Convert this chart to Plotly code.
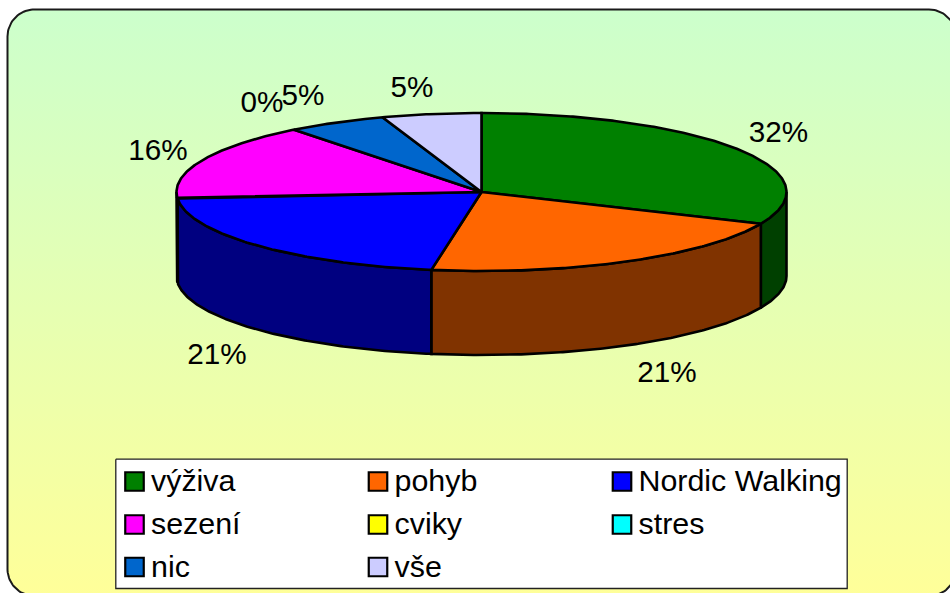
import numpy as np
import plotly.graph_objects as go

categories = ["výživa", "pohyb", "Nordic Walking", "sezení", "cviky", "stres", "nic", "vše"]
values = [6, 4, 4, 3, 0, 0, 1, 1]
top_colors = ["#008000", "#FF6600", "#0000FF", "#FF00FF", "#FFFF00", "#00FFFF", "#0066CC", "#CCCCFF"]
side_colors = ["#004000", "#803300", "#000080", "#800080", "#808000", "#008080", "#003366", "#666680"]
label_pos = [(778.5, 135), (667, 375), (217, 357), (158, 153), None, (262, 105), (303, 98), (412, 90)]

W, H = 950, 593
CX, CY, RX, RY, DEPTH = 481.5, 192, 305, 79, 84
FONT = "Liberation Sans, Arial, sans-serif"
FS = 29.7
LEG_FS = 30.4
LW = 2.6

def ell(a, dy=0):
    a = np.radians(a)
    return CX + RX * np.sin(a), CY - RY * np.cos(a) + dy

def arc(a0, a1, dy=0):
    n = max(2, int(abs(a1 - a0) * 2) + 2)
    return ell(np.linspace(a0, a1, n), dy)

fig = go.Figure()

# rounded chart-area background with gradient
L, T, R, B, r = 7.5, 9.5, 956, 596, 27
t = np.linspace(0, 90, 24)
bx, by = [], []
for (cx, cy, s) in [(L + r, T + r, 180), (R - r, T + r, 270), (R - r, B - r, 0), (L + r, B - r, 90)]:
    a = np.radians(t + s)
    bx += list(cx + r * np.cos(a))
    by += list(cy + r * np.sin(a))
bx.append(bx[0]); by.append(by[0])
fig.add_trace(go.Scatter(
    x=bx, y=by, mode="lines", fill="toself", showlegend=False, hoverinfo="skip",
    line=dict(color="#1a1a1a", width=2),
    fillgradient=dict(type="vertical", start=T, stop=B,
                      colorscale=[[0, "#CCFFCC"], [1, "#FFFF99"]]),
))

total = sum(values)
edges = np.cumsum([0] + values) / total * 360

# side walls (front half only, 90° to 270°)
for i, v in enumerate(values):
    a0, a1 = max(edges[i], 90), min(edges[i + 1], 270)
    if v == 0 or a1 <= a0:
        continue
    x0, y0 = arc(a0, a1)
    x1, y1 = arc(a1, a0, DEPTH)
    fig.add_trace(go.Scatter(
        x=np.r_[x0, x1, x0[0]], y=np.r_[y0, y1, y0[0]], mode="lines", fill="toself",
        fillcolor=side_colors[i], line=dict(color="black", width=LW),
        showlegend=False, hoverinfo="skip"))

# top faces
for i, v in enumerate(values):
    if v == 0:
        continue
    x0, y0 = arc(edges[i], edges[i + 1])
    fig.add_trace(go.Scatter(
        x=np.r_[CX, x0, CX], y=np.r_[CY, y0, CY], mode="lines", fill="toself",
        fillcolor=top_colors[i], line=dict(color="black", width=LW),
        showlegend=False, hoverinfo="text", text=categories[i]))

# percentage labels
for v, p in zip(values, label_pos):
    if p is None:
        continue
    fig.add_trace(go.Scatter(
        x=[p[0]], y=[p[1]], mode="text", text=[f"{round(v / total * 100)}%"],
        textposition="middle center", textfont=dict(family=FONT, size=FS, color="black"),
        showlegend=False, hoverinfo="skip"))

# legend box and entries
LB = (115.8, 459.2, 847.2, 588.5)
fig.add_trace(go.Scatter(
    x=[LB[0], LB[2], LB[2], LB[0], LB[0]], y=[LB[1], LB[1], LB[3], LB[3], LB[1]],
    mode="lines", fill="toself", fillcolor="white", line=dict(color="#222222", width=1.3),
    showlegend=False, hoverinfo="skip"))
col_x = [134.5, 378, 622]
row_y = [481.5, 524.5, 567]
for i, (c, col) in enumerate(zip(categories, top_colors)):
    mx, my = col_x[i % 3], row_y[i // 3]
    fig.add_trace(go.Scatter(
        x=[mx], y=[my], mode="markers", name=c, showlegend=False, hoverinfo="name",
        marker=dict(symbol="square", size=18.5, color=col, line=dict(color="black", width=2.2))))
    fig.add_trace(go.Scatter(
        x=[mx + 16.5], y=[my + 2], mode="text", text=[c], textposition="middle right",
        textfont=dict(family=FONT, size=LEG_FS, color="black"),
        showlegend=False, hoverinfo="skip"))

fig.update_layout(
    width=W, height=H, margin=dict(l=0, r=0, t=0, b=0, autoexpand=False),
    paper_bgcolor="white", plot_bgcolor="rgba(0,0,0,0)", showlegend=False,
    xaxis=dict(range=[0, W], visible=False, fixedrange=True),
    yaxis=dict(range=[H, 0], visible=False, fixedrange=True),
)
fig.write_html("out.html", config=dict(displayModeBar=False),
               post_script="document.body.style.margin='0';document.documentElement.style.overflow='hidden';")
